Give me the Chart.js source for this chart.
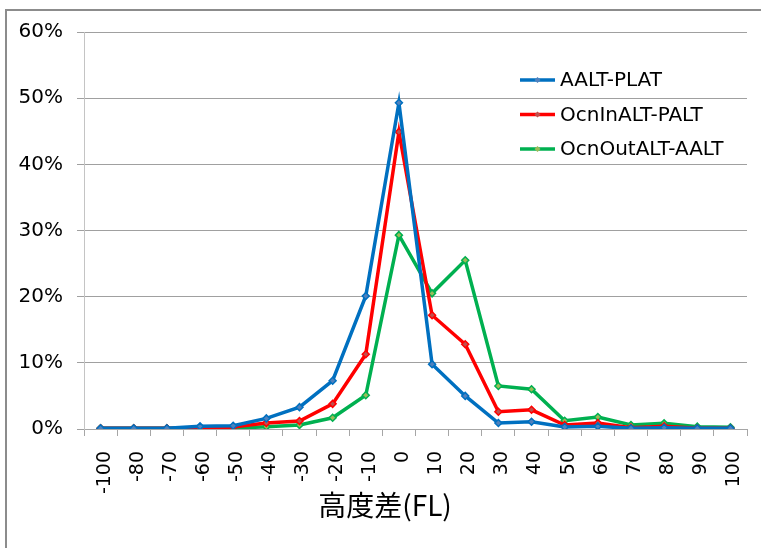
<!DOCTYPE html>
<html>
<head>
<meta charset="utf-8">
<script src="https://cdn.jsdelivr.net/npm/chart.js@4/dist/chart.umd.min.js"></script>
<style>
  html, body { margin: 0; padding: 0; background: #fff; }
  #wrap { position: relative; width: 761px; height: 548px; overflow: hidden; }
  #frame { position: absolute; left: 5px; top: 9px; width: 900px; height: 700px;
           border-left: 2px solid #8c8c8c; border-top: 2px solid #8c8c8c; }
  canvas { position: absolute; left: 0; top: 0; }
</style>
</head>
<body>
<div id="wrap">
  <div id="frame"></div>
  <canvas id="c" width="761" height="548"></canvas>
</div>
<script>
const categories = ["-100","-80","-70","-60","-50","-40","-30","-20","-10","0","10","20","30","40","50","60","70","80","90","100"];
const aaltPlat    = [0.1,0.1,0.1,0.4,0.5,1.6,3.3,7.3,20.1,49.3,9.8,5.0,0.9,1.1,0.3,0.4,0.1,0.2,0.1,0.1];
const ocnInAlt    = [0.1,0.1,0.1,0.1,0.3,0.9,1.2,3.8,11.3,44.9,17.2,12.8,2.6,2.9,0.6,0.9,0.2,0.4,0.1,0.1];
const ocnOutAlt   = [0.1,0.1,0.1,0.1,0.1,0.35,0.6,1.7,5.1,29.3,20.5,25.5,6.5,6.0,1.25,1.8,0.6,0.85,0.35,0.25];
const seriesNames = ["AALT-PLAT","OcnInALT-PALT","OcnOutALT-AALT"];
const yTickValues = [0,10,20,30,40,50,60];
const xTitle = "高度差(FL)";

function ds(label, data, color, markerFill) {
  return {
    label, data,
    borderColor: color, backgroundColor: markerFill,
    borderWidth: 3.5, tension: 0,
    pointStyle: 'rectRot', pointRadius: 3.5, pointBorderWidth: 1.5,
    pointBorderColor: color, pointBackgroundColor: markerFill
  };
}

const legendPlugin = {
  id: 'customLegend',
  afterDraw(chart) {
    const ctx = chart.ctx;
    ctx.save();
    const x0 = 520, x1 = 555, tx = 560;
    const ys = [80, 114.5, 149];
    chart.data.datasets.forEach((d, i) => {
      const y = ys[i];
      ctx.strokeStyle = d.borderColor; ctx.lineWidth = 3.5;
      ctx.beginPath(); ctx.moveTo(x0, y); ctx.lineTo(x1, y); ctx.stroke();
      ctx.fillStyle = d.pointBackgroundColor;
      ctx.beginPath();
      const mx = (x0 + x1) / 2, r = 3;
      ctx.moveTo(mx, y - r); ctx.lineTo(mx + r, y); ctx.lineTo(mx, y + r); ctx.lineTo(mx - r, y); ctx.closePath();
      ctx.fill();
      ctx.fillStyle = '#000';
      ctx.font = '20px "DejaVu Sans"';
      ctx.textAlign = 'left'; ctx.textBaseline = 'middle';
      ctx.fillText(d.label, tx, y + 1);
    });
    ctx.font = '28px "Noto Sans CJK JP"';
    ctx.textAlign = 'center'; ctx.textBaseline = 'middle';
    ctx.fillStyle = '#000';
    ctx.fillText(xTitle, 385, 505);
    ctx.restore();
  }
};

new Chart(document.getElementById('c'), {
  type: 'line',
  data: {
    labels: categories,
    datasets: [
      ds(seriesNames[0], aaltPlat, '#0070C0', '#4F81BD'),
      ds(seriesNames[1], ocnInAlt, '#FF0000', '#C0504D'),
      ds(seriesNames[2], ocnOutAlt, '#00B050', '#9BBB59')
    ]
  },
  options: {
    responsive: false,
    animation: false,
    layout: { padding: { left: 0, right: 14, top: 32, bottom: 0 } },
    plugins: { legend: { display: false }, tooltip: { enabled: false }, title: { display: false } },
    scales: {
      x: {
        type: 'category',
        offset: true,
        grid: { display: true, drawOnChartArea: false, drawTicks: true, tickLength: 7, color: '#a6a6a6', offset: true },
        border: { color: '#a6a6a6', width: 1 },
        ticks: { minRotation: 90, maxRotation: 90, autoSkip: false, color: '#000',
                 font: { family: 'DejaVu Sans', size: 19 }, padding: 15, labelOffset: 4 },
        afterFit(s) { s.height = 548 - 429; s.paddingLeft = 0; s.paddingRight = 0; }
      },
      y: {
        min: 0, max: 60,
        afterBuildTicks(s) { s.ticks = yTickValues.map(v => ({ value: v })); },
        ticks: { callback: v => v + '%', color: '#000', font: { family: 'DejaVu Sans', size: 20 }, padding: 14 },
        grid: { color: '#a0a0a0', tickLength: 7, drawTicks: true, lineWidth: 1 },
        border: { color: '#c4c4c4', width: 1 },
        afterFit(s) { s.width = 84; s.paddingTop = 0; s.paddingBottom = 0; }
      }
    }
  },
  plugins: [legendPlugin]
});
</script>
</body>
</html>
